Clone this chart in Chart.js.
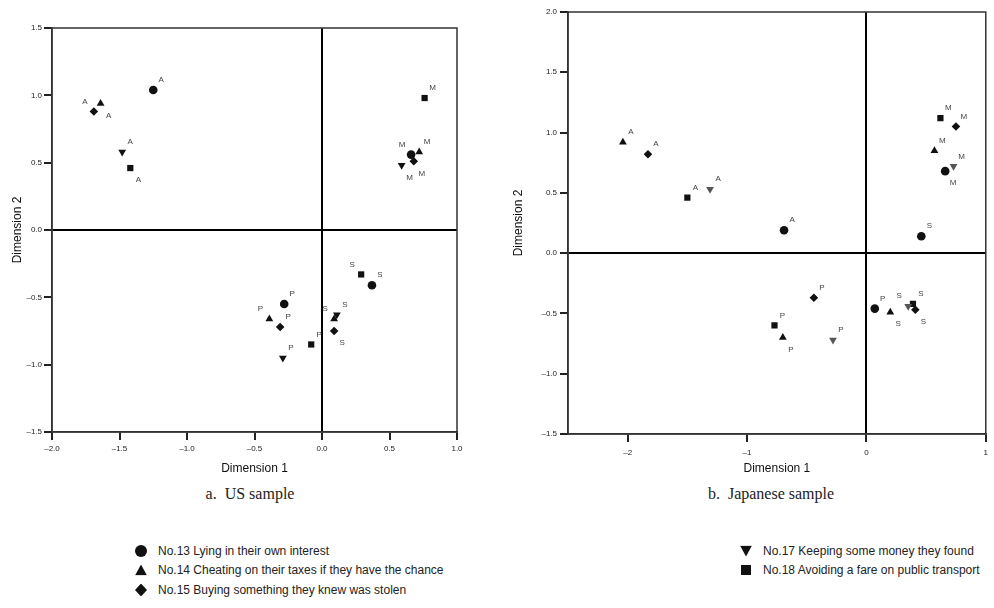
<!DOCTYPE html>
<html>
<head>
<meta charset="utf-8">
<script src="https://cdn.jsdelivr.net/npm/chart.js@4.4.1/dist/chart.umd.min.js"></script>
<style>
  body { margin: 0; width: 994px; height: 608px; background: #fff; position: relative; overflow: hidden;
         font-family: "Liberation Sans", Arial, sans-serif; }
  canvas { position: absolute; top: 0; }
  #usChart { left: 0; }
  #jpChart { left: 490px; }
  .caption { position: absolute; font-family: "Liberation Serif", "Times New Roman", serif; font-size: 16px;
             color: #222; transform: translate(-50%, -50%); white-space: pre; }
  .key { position: absolute; font-size: 12px; color: #222; white-space: nowrap; transform: translateY(-50%); }
  .mark { position: absolute; background: #111; transform: translate(-50%, -50%); }
  .mark.circle { width: 12px; height: 12px; border-radius: 50%; }
  .mark.triangle { width: 12px; height: 11px; clip-path: polygon(50% 0, 100% 100%, 0 100%); }
  .mark.diamond { width: 12px; height: 13px; clip-path: polygon(50% 0, 100% 50%, 50% 100%, 0 50%); }
  .mark.down { width: 12px; height: 11px; clip-path: polygon(0 0, 100% 0, 50% 100%); }
  .mark.square { width: 10px; height: 10px; }
</style>
</head>
<body>
<canvas id="usChart" width="480" height="480"></canvas>
<canvas id="jpChart" width="504" height="480"></canvas>
<div class="caption" style="left:250px; top:494px;">a.  US sample</div>
<div class="caption" style="left:771px; top:494px;">b.  Japanese sample</div>
<div id="legend"></div>

<script>
// groups the points belong to
const groups = ['A', 'M', 'S', 'P'];

const itemNames = [
    'No.13 Lying in their own interest',
    'No.14 Cheating on their taxes if they have the chance',
    'No.15 Buying something they knew was stolen',
    'No.17 Keeping some money they found',
    'No.18 Avoiding a fare on public transport'
];

// US sample, points in order A, M, S, P
const usLying  = [[-1.25, 1.04], [0.66, 0.56], [0.37, -0.41], [-0.28, -0.55]];
const usTaxes  = [[-1.64, 0.94], [0.72, 0.58], [0.09, -0.66], [-0.39, -0.66]];
const usStolen = [[-1.69, 0.88], [0.68, 0.51], [0.09, -0.75], [-0.31, -0.72]];
const usMoney  = [[-1.48, 0.58], [0.59, 0.48], [0.11, -0.63], [-0.29, -0.95]];
const usFare   = [[-1.42, 0.46], [0.76, 0.98], [0.29, -0.33], [-0.08, -0.85]];

// Japanese sample, points in order A, M, S, P
const jpLying  = [[-0.69, 0.19], [0.66, 0.68], [0.46, 0.14], [0.07, -0.46]];
const jpTaxes  = [[-2.04, 0.92], [0.57, 0.85], [0.20, -0.49], [-0.70, -0.70]];
const jpStolen = [[-1.83, 0.82], [0.75, 1.05], [0.41, -0.47], [-0.44, -0.37]];
const jpMoney  = [[-1.31, 0.53], [0.73, 0.72], [0.35, -0.44], [-0.28, -0.72]];
const jpFare   = [[-1.50, 0.46], [0.62, 1.12], [0.39, -0.42], [-0.77, -0.60]];

// axis ticks
const usXTicks = [-2.0, -1.5, -1.0, -0.5, 0.0, 0.5, 1.0];
const usYTicks = [-1.5, -1.0, -0.5, 0.0, 0.5, 1.0, 1.5];
const jpXTicks = [-2, -1, 0, 1];
const jpYTicks = [-1.5, -1.0, -0.5, 0.0, 0.5, 1.0, 1.5, 2.0];
const jpXRange = [-2.5, 1];

// where the group letter sits next to each point
const usSpots = [['ur', 'ul', 'ur', 'ur'], ['lr', 'ur', 'ul', 'ul'], ['ul', 'lr', 'lr', 'ur'], ['ur', 'lr', 'ur', 'ur'], ['lr', 'ur', 'ul', 'ur']];
const jpSpots = [['ur', 'lr', 'ur', 'ur'], ['ur', 'ur', 'lr', 'lr'], ['ur', 'ur', 'lr', 'ur'], ['ur', 'ur', 'ul', 'ur'], ['ur', 'ur', 'ur', 'ur']];
const spotOffsets = { ur: [8, -10], ul: [-9, -10], lr: [8, 12], ll: [-9, 12] };

const markers = [
    { style: 'circle', rotation: 0, radius: 4.3, css: 'circle' },
    { style: 'triangle', rotation: 0, radius: 4.5, css: 'triangle' },
    { style: 'rectRot', rotation: 0, radius: 4.3, css: 'diamond' },
    { style: 'triangle', rotation: 180, radius: 4.5, css: 'down' },
    { style: 'rect', rotation: 0, radius: 4.4, css: 'square' }
];

const tickFont = { family: '"Liberation Sans", Arial, sans-serif', size: 8 };
const titleFont = { family: '"Liberation Sans", Arial, sans-serif', size: 12 };

// üîπ frame round the plot area
const frame = {
    id: 'frame',
    afterDraw(chart) {
        const { ctx, chartArea: a } = chart;
        ctx.save();
        ctx.strokeStyle = '#333';
        ctx.lineWidth = 1.5;
        ctx.strokeRect(a.left, a.top, a.right - a.left, a.bottom - a.top);
        ctx.restore();
    }
};

// üîπ group letters beside the points
const pointTags = {
    id: 'pointTags',
    afterDatasetsDraw(chart) {
        const ctx = chart.ctx;
        ctx.save();
        ctx.font = '8px "Liberation Sans", Arial, sans-serif';
        ctx.fillStyle = '#444';
        ctx.textAlign = 'center';
        ctx.textBaseline = 'middle';
        chart.data.datasets.forEach((ds, i) => {
            chart.getDatasetMeta(i).data.forEach((pt, j) => {
                const off = spotOffsets[ds.spots[j]];
                ctx.fillText(groups[j], pt.x + off[0], pt.y + off[1]);
            });
        });
        ctx.restore();
    }
};

function buildDatasets(series, spots, downColor) {
    return series.map((pts, i) => ({
        label: itemNames[i],
        data: pts.map(p => ({ x: p[0], y: p[1] })),
        spots: spots[i],
        pointStyle: markers[i].style,
        rotation: markers[i].rotation,
        pointRadius: markers[i].radius,
        pointHoverRadius: markers[i].radius,
        backgroundColor: i === 3 ? downColor : '#111',
        borderColor: i === 3 ? downColor : '#111',
        borderWidth: 0
    }));
}

function axis(ticks, range, axisSize, isX, opts) {
    return {
        type: 'linear',
        min: range[0],
        max: range[1],
        afterBuildTicks: s => { s.ticks = ticks.map(v => ({ value: v })); },
        afterFit: s => { if (isX) s.height = axisSize; else s.width = axisSize; },
        border: { display: true, color: '#333', width: 1.5 },
        grid: {
            color: c => (c.tick && c.tick.value === 0 ? '#000' : 'rgba(0,0,0,0)'),
            lineWidth: 2,
            drawTicks: true,
            tickLength: 8,
            tickColor: '#222',
            tickWidth: 2
        },
        ticks: {
            font: tickFont,
            color: '#222',
            padding: opts.pad,
            maxRotation: 0,
            callback: v => opts.fmt(v).replace('-', '\u2013')
        },
        title: {
            display: true,
            text: isX ? 'Dimension 1' : 'Dimension 2',
            font: titleFont,
            color: '#111',
            padding: isX ? { top: 0, bottom: 4 } : { top: opts.titlePad, bottom: 0 }
        }
    };
}

function drawChart(id, series, spots, downColor, cfg) {
    return new Chart(document.getElementById(id), {
        type: 'scatter',
        data: { datasets: buildDatasets(series, spots, downColor) },
        options: {
            responsive: false,
            animation: false,
            layout: { padding: cfg.padding },
            plugins: { legend: { display: false }, tooltip: { enabled: false } },
            scales: { x: cfg.x, y: cfg.y }
        },
        plugins: [frame, pointTags]
    });
}

drawChart('usChart', [usLying, usTaxes, usStolen, usMoney, usFare], usSpots, '#111', {
    padding: { top: 28, right: 23, left: 0, bottom: 0 },
    x: axis(usXTicks, [usXTicks[0], usXTicks[usXTicks.length - 1]], 48, true, { pad: 4, fmt: v => v.toFixed(1) }),
    y: axis(usYTicks, [usYTicks[0], usYTicks[usYTicks.length - 1]], 52, false, { pad: 2, titlePad: 10, fmt: v => v.toFixed(1) })
});

drawChart('jpChart', [jpLying, jpTaxes, jpStolen, jpMoney, jpFare], jpSpots, '#555', {
    padding: { top: 12, right: 4, left: 0, bottom: 0 },
    x: axis(jpXTicks, jpXRange, 46, true, { pad: 6, fmt: v => String(v) }),
    y: axis(jpYTicks, [jpYTicks[0], jpYTicks[jpYTicks.length - 1]], 78, false, { pad: 3, titlePad: 21, fmt: v => v.toFixed(1) })
});

// üîπ legend below the charts
const legendSlots = [[141, 551], [141, 570], [141, 590], [746, 551], [746, 570]];
const legend = document.getElementById('legend');
itemNames.forEach((name, i) => {
    const [x, y] = legendSlots[i];
    const mark = document.createElement('div');
    mark.className = 'mark ' + markers[i].css;
    mark.style.left = x + 'px';
    mark.style.top = y + 'px';
    legend.appendChild(mark);
    const key = document.createElement('div');
    key.className = 'key';
    key.textContent = name;
    key.style.left = (x + 17) + 'px';
    key.style.top = y + 'px';
    legend.appendChild(key);
});
</script>
</body>
</html>
